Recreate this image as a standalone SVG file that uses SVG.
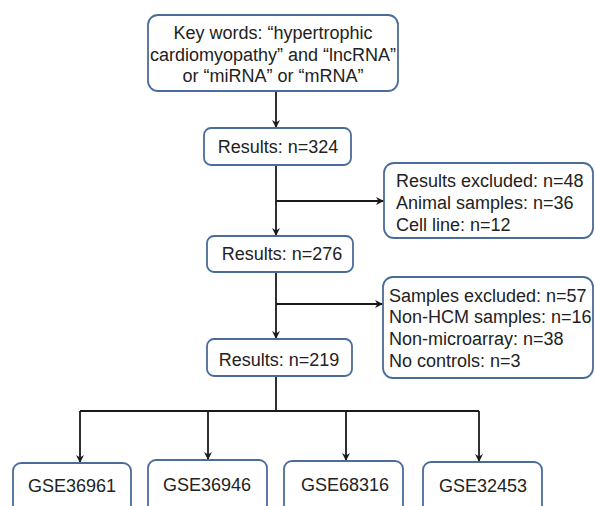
<svg xmlns="http://www.w3.org/2000/svg" width="595" height="506" viewBox="0 0 595 506">
<defs>
<marker id="ah" viewBox="0 0 10 10" refX="10" refY="5" markerWidth="8" markerHeight="8" markerUnits="userSpaceOnUse" orient="auto">
<path d="M0,0 L10,5 L0,10 L3,5 z" fill="#1a1a1a"/>
</marker>
<style>
.box{fill:#fff;stroke:#4a6c9b;stroke-width:1.8}
.t{font-family:"Liberation Sans",Arial,sans-serif;font-size:18px;fill:#222}
.c{text-anchor:middle}
.ln{fill:none;stroke:#1a1a1a;stroke-width:1.8}
</style>
</defs>
<rect width="595" height="506" fill="#fff"/>
<g id="connectors">
<path class="ln" d="M276,91 V128" marker-end="url(#ah)"/>
<path class="ln" d="M276,165 V236" marker-end="url(#ah)"/>
<path class="ln" d="M276,201 H384" marker-end="url(#ah)"/>
<path class="ln" d="M276,272 V339" marker-end="url(#ah)"/>
<path class="ln" d="M276,304 H383" marker-end="url(#ah)"/>
<path class="ln" d="M276,376 V411"/>
<path class="ln" d="M80,411 H479"/>
<path class="ln" d="M80,411 V463" marker-end="url(#ah)"/>
<path class="ln" d="M208,411 V460" marker-end="url(#ah)"/>
<path class="ln" d="M346,411 V461" marker-end="url(#ah)"/>
<path class="ln" d="M479,411 V462" marker-end="url(#ah)"/>
</g>
<g id="keywords">
<rect class="box" x="148" y="15" width="250" height="76" rx="10"/>
<text class="t c" x="273" y="39">Key words: “hypertrophic</text>
<text class="t c" x="273" y="61">cardiomyopathy” and “lncRNA”</text>
<text class="t c" x="273" y="82">or “miRNA” or “mRNA”</text>
</g>
<g id="results324">
<rect class="box" x="204" y="128" width="147" height="37" rx="7"/>
<text class="t c" x="278" y="153">Results: n=324</text>
</g>
<g id="excluded1">
<rect class="box" x="384" y="163" width="209" height="75" rx="10"/>
<text class="t" x="396" y="187">Results excluded: n=48</text>
<text class="t" x="396" y="209">Animal samples: n=36</text>
<text class="t" x="396" y="231">Cell line: n=12</text>
</g>
<g id="results276">
<rect class="box" x="207" y="236" width="146" height="36" rx="7"/>
<text class="t c" x="282" y="260">Results: n=276</text>
</g>
<g id="excluded2">
<rect class="box" x="383" y="277" width="210" height="101" rx="10"/>
<text class="t" x="389" y="302">Samples excluded: n=57</text>
<text class="t" x="389" y="323">Non-HCM samples: n=16</text>
<text class="t" x="389" y="345">Non-microarray: n=38</text>
<text class="t" x="389" y="367">No controls: n=3</text>
</g>
<g id="results219">
<rect class="box" x="207" y="339" width="145" height="37" rx="7"/>
<text class="t c" x="279" y="366">Results: n=219</text>
</g>
<g id="gse36961">
<rect class="box" x="13" y="463" width="118" height="55" rx="8"/>
<text class="t c" x="72" y="492">GSE36961</text>
</g>
<g id="gse36946">
<rect class="box" x="148" y="460" width="119" height="58" rx="8"/>
<text class="t c" x="207" y="491">GSE36946</text>
</g>
<g id="gse68316">
<rect class="box" x="284" y="461" width="119" height="57" rx="8"/>
<text class="t c" x="345" y="491">GSE68316</text>
</g>
<g id="gse32453">
<rect class="box" x="423" y="462" width="119" height="56" rx="8"/>
<text class="t c" x="483" y="492">GSE32453</text>
</g>
</svg>
